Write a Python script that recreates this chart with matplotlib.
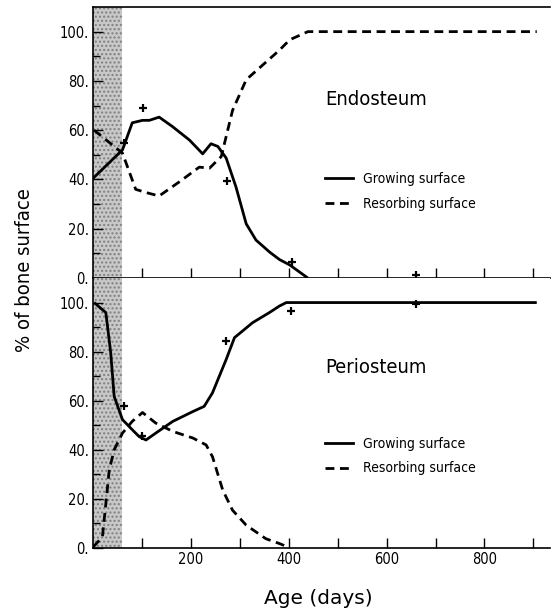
import matplotlib
matplotlib.use("Agg")
import matplotlib.pyplot as plt
from matplotlib.lines import Line2D
from matplotlib.font_manager import FontProperties

narrow = ['Liberation Sans Narrow', 'DejaVu Sans']

# Endosteum
endo_grow_x = [0, 60, 80, 101, 115, 135, 162, 197, 224, 241, 255, 272, 292, 313, 333, 361, 381, 402, 439]
endo_grow_y = [40.5, 52, 63, 64, 64, 65.3, 61.5, 56, 50.4, 54.5, 53.4, 48.7, 37, 22, 15.4, 10.5, 7.5, 5.3, 0]
endo_res_x = [2, 60, 87, 108, 135, 176, 217, 238, 262, 285, 313, 347, 381, 402, 439, 907]
endo_res_y = [60, 50.7, 36, 34.7, 33.3, 39, 45, 44.6, 49.3, 68, 80.5, 86.5, 92.5, 96.7, 100, 100]
endo_pts_x = [63, 101, 274, 407, 661]
endo_pts_y = [55, 69.2, 39.4, 6.6, 1.2]

# Periosteum
peri_grow_x = [2, 26, 36, 43, 60, 80, 94, 108, 128, 163, 204, 227, 244, 272, 289, 326, 361, 381, 395, 907]
peri_grow_y = [100, 95.9, 79.5, 61.8, 52.3, 48.2, 45.4, 44, 46.8, 51.6, 55.6, 57.7, 63.2, 76.8, 85.7, 91.8, 96, 98.6, 100, 100]
peri_res_x = [0, 19, 26, 33, 43, 60, 80, 101, 128, 163, 204, 231, 244, 265, 285, 313, 353, 381, 398]
peri_res_y = [0.4, 4.5, 18, 31.8, 40, 46.8, 51.6, 55.2, 50.9, 47.5, 44.8, 42, 37.2, 23.6, 15.4, 9.3, 3.8, 1.8, 0.4]
peri_pts_x = [64, 100, 272, 405, 661]
peri_pts_y = [57.7, 45.8, 84.3, 96.6, 99.3]

y_ticks = [0, 20, 40, 60, 80, 100]
y_labels = ['0.', '20.', '40.', '60.', '80.', '100.']
x_ticks = [100, 200, 300, 400, 500, 600, 700, 800, 900]
x_labels = ['', '200', '', '400', '', '600', '', '800', '']


def fp(size):
    return FontProperties(family=narrow, stretch='condensed', size=size)


fig = plt.figure(figsize=(5.51, 6.14), dpi=100)
ax1 = fig.add_axes([0.169, 0.5472, 0.83, 0.4414])
ax2 = fig.add_axes([0.169, 0.1075, 0.83, 0.4397])

panels = [
    (ax1, endo_grow_x, endo_grow_y, endo_res_x, endo_res_y, endo_pts_x, endo_pts_y, 'Endosteum', 0.657, 0.32),
    (ax2, peri_grow_x, peri_grow_y, peri_res_x, peri_res_y, peri_pts_x, peri_pts_y, 'Periosteum', 0.67, 0.34),
]

for ax, gx, gy, rx, ry, px, py, name, ty, ly in panels:
    ax.axvspan(0, 60, facecolor='#c8c8c8', edgecolor='#7f7f7f', hatch='....', lw=0, zorder=0)
    ax.plot(gx, gy, color='black', lw=2.0, solid_capstyle='butt')
    ax.plot(rx, ry, color='black', lw=2.0, dashes=(3.2, 2))
    ax.plot(px, py, '+', color='black', ms=6, mew=1.6)
    ax.set_xlim(0, 935)
    ax.set_ylim(0, 110)
    ax.set_yticks(y_ticks)
    ax.set_yticklabels(y_labels, fontproperties=fp(10.5))
    ax.set_yticks(range(10, 110, 20), minor=True)
    ax.set_xticks(x_ticks)
    ax.tick_params(axis='both', which='major', direction='in', length=7, width=1, pad=3)
    ax.tick_params(axis='y', which='minor', direction='in', length=5, width=1)
    ax.spines['right'].set_visible(False)
    for s in ax.spines.values():
        s.set_linewidth(1.2)
    ax.text(0.508, ty, name, transform=ax.transAxes, fontproperties=fp(14.5), va='center')
    handles = [Line2D([], [], color='black', lw=2),
               Line2D([], [], color='black', lw=2, dashes=(3.2, 2))]
    ax.legend(handles, ['Growing surface', 'Resorbing surface'], loc='center left',
              bbox_to_anchor=(0.508, ly), frameon=False, handlelength=2.0,
              handletextpad=0.7, labelspacing=0.75, borderpad=0, borderaxespad=0,
              prop=fp(10))

ax1.set_xticklabels([])
ax2.spines['top'].set_visible(False)
ax2.set_xticklabels(x_labels, fontproperties=fp(10.5))

fig.text(0.045, 0.56, '% of bone surface', rotation=90, ha='center', va='center',
         fontproperties=fp(14.5))
fig.text(0.577, 0.026, 'Age (days)', ha='center', va='center',
         family='DejaVu Sans', fontsize=14.5)

fig.savefig('out.png', dpi=100)
